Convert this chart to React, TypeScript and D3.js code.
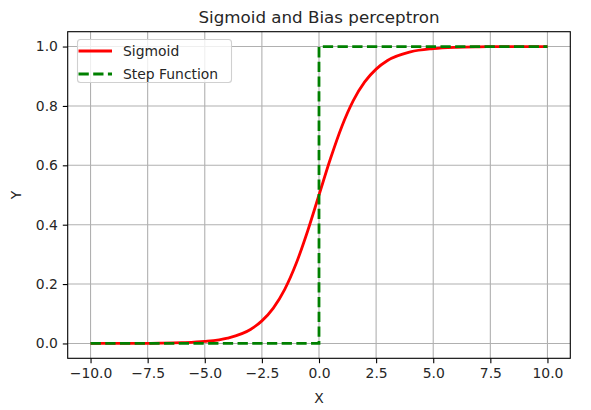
import * as d3 from 'd3';
import React, { useEffect, useRef } from 'react';

// values
const sigmoidX: number[] = [-10, -9, -8, -7, -6, -5, -4, -3, -2.5, -2, -1.5, -1, -0.5, 0, 0.5, 1, 1.5, 2, 2.5, 3, 4, 5, 6, 7, 8, 9, 10];
const sigmoidY: number[] = [0.00005, 0.0001, 0.0003, 0.0009, 0.0025, 0.0067, 0.018, 0.047, 0.076, 0.119, 0.182, 0.269, 0.378, 0.5, 0.622, 0.731, 0.818, 0.881, 0.924, 0.953, 0.982, 0.993, 0.9975, 0.9991, 0.9997, 0.9999, 0.99995];

const stepX: number[] = [-10, 0, 0, 10];
const stepY: number[] = [0, 0, 1, 1];

const xTicks: number[] = [-10, -7.5, -5, -2.5, 0, 2.5, 5, 7.5, 10];
const yTicks: number[] = [0, 0.2, 0.4, 0.6, 0.8, 1.0];

const seriesNames: string[] = ['Sigmoid', 'Step Function'];

export default () => {
    const ref = useRef<any>();

    useEffect(() => {
        const width = 591;
        const height = 410;
        const font = 'DejaVu Sans';

        const left = 67.7, right = 570.3, top = 31.7, bottom = 358.3;

        const svg = d3.select<any, any>(ref.current)
            .attr('width', width)
            .attr('height', height);
        svg.selectAll('*').remove();

        svg.append('rect').attr('width', width).attr('height', height).attr('fill', '#fff');

        const xScale = d3.scaleLinear().domain([-11, 11]).range([left, right]);
        const yScale = d3.scaleLinear().domain([-0.05, 1.05]).range([bottom, top]);

        // grid
        const grid = svg.append('g').attr('class', 'grid');
        grid.selectAll('.gx').data(xTicks).join('line')
            .attr('x1', (d) => xScale(d)).attr('x2', (d) => xScale(d))
            .attr('y1', top).attr('y2', bottom)
            .attr('stroke', '#b0b0b0').attr('stroke-width', 1.1);
        grid.selectAll('.gy').data(yTicks).join('line')
            .attr('y1', (d) => yScale(d)).attr('y2', (d) => yScale(d))
            .attr('x1', left).attr('x2', right)
            .attr('stroke', '#b0b0b0').attr('stroke-width', 1.1);

        // axes
        const xAxis = d3.axisBottom(xScale).tickValues(xTicks).tickSize(4.9).tickPadding(4.9)
            .tickFormat((d: any) => d3.format('.1f')(d).replace('-', '\u2212'));
        const yAxis = d3.axisLeft(yScale).tickValues(yTicks).tickSize(4.9).tickPadding(4.9)
            .tickFormat((d: any) => d3.format('.1f')(d));

        const gx = svg.append('g').attr('transform', `translate(0, ${bottom})`).call(xAxis);
        const gy = svg.append('g').attr('transform', `translate(${left}, 0)`).call(yAxis);
        [gx, gy].forEach((g) => {
            g.select('.domain').remove();
            g.selectAll('line').attr('stroke', '#000').attr('stroke-width', 1.1);
            g.selectAll('text').attr('font-family', font).attr('font-size', 13.9).attr('fill', '#262626');
        });

        // lines
        const sigmoid = sigmoidX.map((x, i) => [x, sigmoidY[i]] as [number, number]);
        const step = stepX.map((x, i) => [x, stepY[i]] as [number, number]);

        const line = d3.line<[number, number]>()
            .x((d) => xScale(d[0]))
            .y((d) => yScale(d[1]));

        svg.append('path')
            .datum(sigmoid)
            .attr('d', line.curve(d3.curveMonotoneX)(sigmoid) as string)
            .attr('fill', 'none').attr('stroke', '#ff0000').attr('stroke-width', 2.8);

        svg.append('path')
            .attr('d', d3.line<[number, number]>().x((d) => xScale(d[0])).y((d) => yScale(d[1]))(step) as string)
            .attr('fill', 'none').attr('stroke', '#008000').attr('stroke-width', 2.8)
            .attr('stroke-dasharray', '10.3,4.4');

        // spines
        svg.append('rect')
            .attr('x', left).attr('y', top)
            .attr('width', right - left).attr('height', bottom - top)
            .attr('fill', 'none').attr('stroke', '#000').attr('stroke-width', 1.1);

        // title and labels
        svg.append('text')
            .attr('x', (left + right) / 2).attr('y', 22.5)
            .attr('text-anchor', 'middle')
            .attr('font-family', font).attr('font-size', 16.7).attr('fill', '#262626')
            .text('Sigmoid and Bias perceptron');
        svg.append('text')
            .attr('x', (left + right) / 2).attr('y', 403)
            .attr('text-anchor', 'middle')
            .attr('font-family', font).attr('font-size', 13.9).attr('fill', '#262626')
            .text('X');
        svg.append('text')
            .attr('transform', `translate(21, ${(top + bottom) / 2}) rotate(-90)`)
            .attr('text-anchor', 'middle')
            .attr('font-family', font).attr('font-size', 13.9).attr('fill', '#262626')
            .text('Y');

        // legend
        const legend = svg.append('g');
        legend.append('rect')
            .attr('x', 77.5).attr('y', 39.5)
            .attr('width', 154).attr('height', 43)
            .attr('rx', 3)
            .attr('fill', 'rgba(255,255,255,0.8)').attr('stroke', '#d0d0d0').attr('stroke-width', 1.1);
        const colors = ['#ff0000', '#008000'];
        const dashes = ['none', '10.3,4.4'];
        seriesNames.forEach((name, i) => {
            const y = 51 + i * 23;
            legend.append('line')
                .attr('x1', 78.5).attr('x2', 112)
                .attr('y1', y).attr('y2', y)
                .attr('stroke', colors[i]).attr('stroke-width', 2.8)
                .attr('stroke-dasharray', dashes[i]);
            legend.append('text')
                .attr('x', 123).attr('y', y + 5)
                .attr('font-family', font).attr('font-size', 13.9).attr('fill', '#262626')
                .text(name);
        });
    }, []);

    return (
        <svg ref={ref} style={{ position: 'absolute', left: 0, top: 0, display: 'block' }}></svg>
    );
};
